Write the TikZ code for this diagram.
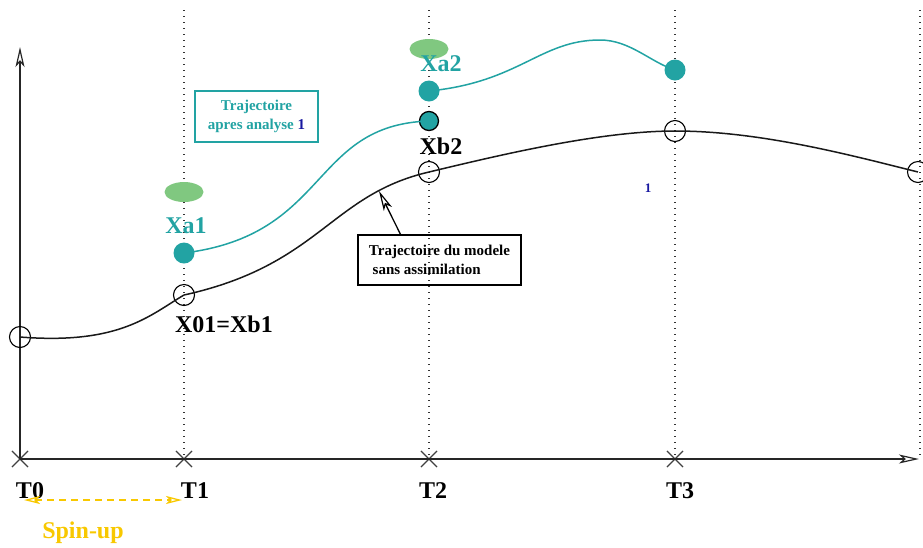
\documentclass[tikz,border=0pt]{standalone}
\usepackage{fontspec}
\setmainfont{Liberation Serif}
\usetikzlibrary{arrows.meta,shapes.geometric,shapes.misc}
\definecolor{anateal}{HTML}{22A3A3}
\definecolor{errgreen}{HTML}{80C880}
\definecolor{spinyellow}{HTML}{F8C800}
\definecolor{numblue}{HTML}{1818A0}
\begin{document}
\begin{tikzpicture} [
                x=1pt,y=-1pt,
                hollow/.style = {-{Stealth[open,length=20pt,width=9pt,inset=5pt,line width=1.2pt]}},
                axis/.style = {draw,line width=1.5pt,black!85,hollow},
                guide/.style = {draw,line width=1.4pt,dash pattern=on 1.4pt off 4.6pt,black!80},
                tickmark/.style = {cross out,draw,line width=1.1pt,black!75,minimum size=15pt,inner sep=0pt},
                timelabel/.style = {font=\fontsize{24}{26}\selectfont\bfseries,anchor=north},
                modelpt/.style = {circle,draw,line width=1.1pt,minimum size=21pt,inner sep=0pt},
                anapt/.style = {circle,fill=anateal,minimum size=21pt,inner sep=0pt},
                errell/.style = {ellipse,fill=errgreen,minimum width=39pt,minimum height=20pt,inner sep=0pt},
                statelabel/.style = {font=\fontsize{24}{26}\selectfont\bfseries},
                modelline/.style = {draw,line width=1.5pt,black!90},
                analine/.style = {draw,line width=1.5pt,anateal},
                boxtext/.style = {font=\fontsize{15}{19}\selectfont\bfseries,inner sep=3pt,line width=1.3pt},
            ]
            \useasboundingbox (0,0) rectangle (923,547);
            % Time axis with its ticks
            \foreach \pos/\name in {
                    {(20,459)/t0}, {(184,459)/t1}, {(429,459)/t2}, {(675,459)/t3}}
                \node[tickmark] (\name) at \pos {};
            \coordinate (xend) at (919,459);
            \coordinate (yend) at (20,47);
            \path[axis] (t0.center) -- (xend);
            \path[axis] (t0.center) -- (yend);
            \foreach \x/\name in {184/t1, 429/t2, 675/t3}
                \path[guide] (\x,10) -- (\name.center);
            \path[guide] (920,10) -- (920,455);
            \foreach \pos/\name/\txt in {
                    {(30,479)/lt0/T0}, {(195,479)/lt1/T1}, {(433,479)/lt2/T2}, {(680,479)/lt3/T3}}
                \node[timelabel] (\name) at \pos {\txt};
            % Spin-up
            \coordinate (su0) at (24,500);
            \coordinate (su1) at (182,500);
            \path[draw,line width=1.3pt,dash pattern=on 7pt off 5pt,spinyellow,
                {Stealth[open,length=16pt,width=8pt,inset=4pt]}-{Stealth[open,length=16pt,width=8pt,inset=4pt]}] (su0) -- (su1);
            \node[font=\fontsize{24}{26}\selectfont\bfseries,text=spinyellow] (spin) at (83,533) {Spin-up};
            % Model trajectory
            \foreach \pos/\name in {
                    {(20,337)/b0}, {(184,295)/b1}, {(429,172)/b2}, {(675,131)/b3}, {(918,172)/b4}}
                \node[modelpt] (\name) at \pos {};
            \path[modelline] (b0.center) .. controls (120,345) and (150,315) .. (b1.center);
            \path[modelline] (b1.center) .. controls (320,265) and (330,195) .. (b2.center);
            \path[modelline] (b2.center) .. controls (500,155) and (600,131) .. (b3.center);
            \path[modelline] (b3.center) .. controls (760,131) and (850,155) .. (b4.center);
            % Analysed trajectory
            \node[errell] (e1) at (184,192) {};
            \node[errell] (e2) at (429,49) {};
            \node[anapt] (a1) at (184,253) {};
            \node[anapt,draw=black,line width=1.3pt,minimum size=19pt] (f2) at (429,121) {};
            \node[anapt] (a2) at (429,91) {};
            \node[anapt,minimum width=19pt] (a3) at (675,70) {};
            \coordinate (peak) at (600,40);
            \path[analine] (a1.center) .. controls (330,235) and (310,125) .. (f2.center);
            \path[analine] (a2.center) .. controls (520,82) and (540,40) .. (peak)
                .. controls (630,40) and (650,62) .. (a3.center);
            % Labels
            \node[statelabel,text=anateal] (la1) at (186,226) {Xa1};
            \node[statelabel,text=anateal] (la2) at (441,64) {Xa2};
            \node[statelabel] (lb2) at (441,146) {Xb2};
            \node[statelabel] (lb1) at (224,324) {X01=Xb1};
            \node[boxtext,draw=anateal,text=anateal,align=center,minimum width=123pt,minimum height=51pt] (boxa) at (256.5,116.5)
                {Trajectoire\\ apres analyse \textcolor{numblue}{1}};
            \node[boxtext,draw,align=left,minimum width=163pt,minimum height=50pt] (boxm) at (439.5,260)
                {Trajectoire du modele\\ \ sans assimilation};
            \coordinate (onmodel) at (379,191);
            \path[draw,line width=1.3pt,hollow] ([xshift=-39pt]boxm.north) -- (onmodel);
            \node[font=\fontsize{13}{15}\selectfont\bfseries,text=numblue] (one) at (648,188) {1};
        \end{tikzpicture}
\end{document}
